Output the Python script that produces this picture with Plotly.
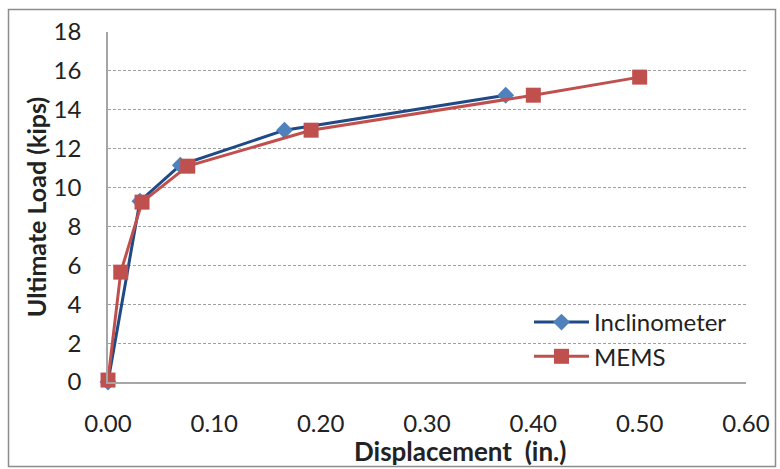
import plotly.graph_objects as go

incl_x = [0.0, 0.030, 0.068, 0.166, 0.374]
incl_y = [0.0, 9.3, 11.15, 12.95, 14.75]
mems_x = [0.0, 0.012, 0.032, 0.075, 0.191, 0.400, 0.500]
mems_y = [0.1, 5.65, 9.25, 11.1, 12.95, 14.75, 15.68]

FONT = "Lato"
fig = go.Figure()
fig.add_trace(go.Scatter(x=incl_x, y=incl_y, name="Inclinometer", mode="lines+markers",
                         line=dict(color="#1F4A86", width=3),
                         marker=dict(symbol="diamond", size=13, color="#4F81BD"),
                         cliponaxis=False))
fig.add_trace(go.Scatter(x=mems_x, y=mems_y, name="MEMS", mode="lines+markers",
                         line=dict(color="#C0504D", width=3),
                         marker=dict(symbol="square", size=15, color="#C0504D"),
                         cliponaxis=False))

L, R, T, B = 108, 34, 32, 87
W, H = 780, 469
pw, ph = W - L - R, H - T - B

def px(x):
    return (x - L) / pw

def py(y):
    return (H - B - y) / ph

fig.update_layout(
    width=W, height=H,
    margin=dict(l=L, r=R, t=T, b=B, autoexpand=False),
    paper_bgcolor="white", plot_bgcolor="white",
    font=dict(family=FONT, size=24, color="#222"),
    showlegend=True,
    legend=dict(x=px(529), y=py(300), xanchor="left", yanchor="top",
                bgcolor="rgba(0,0,0,0)", font=dict(size=24, color="#222"),
                itemwidth=55, tracegroupgap=0),
    xaxis=dict(range=[0, 0.6], dtick=0.1, tickformat=".2f", showgrid=False,
               showline=True, linecolor="#A6A6A6", linewidth=1.5, zeroline=False,
               automargin=False,
               ticks="", ticklabelstandoff=19, tickfont=dict(size=24)),
    yaxis=dict(range=[0, 18], dtick=2, showgrid=True, gridcolor="#A0A0A0",
               griddash="3px,2px", gridwidth=1, automargin=False,
               showline=True, linecolor="#A6A6A6", linewidth=1.5, zeroline=False,
               ticks="", ticklabelstandoff=20, tickfont=dict(size=24),
               title=dict(text="<b>Ultimate Load (kips)</b>", font=dict(size=25), standoff=0)),
    shapes=[dict(type="rect", xref="paper", yref="paper",
                 x0=px(8.5), x1=px(775.5), y0=py(466.5), y1=py(9.5),
                 line=dict(color="#8C8C8C", width=1.5), fillcolor="rgba(0,0,0,0)", layer="above")],
    annotations=[dict(text="<b>Displacement  (in.)</b>", xref="paper", yref="paper",
                      x=px(460), y=py(451), xanchor="center", yanchor="middle",
                      showarrow=False, font=dict(size=26))],
)

fig.write_html("out.html", config={"displayModeBar": False},
               post_script="document.body.style.margin='0';document.body.style.padding='0';")
